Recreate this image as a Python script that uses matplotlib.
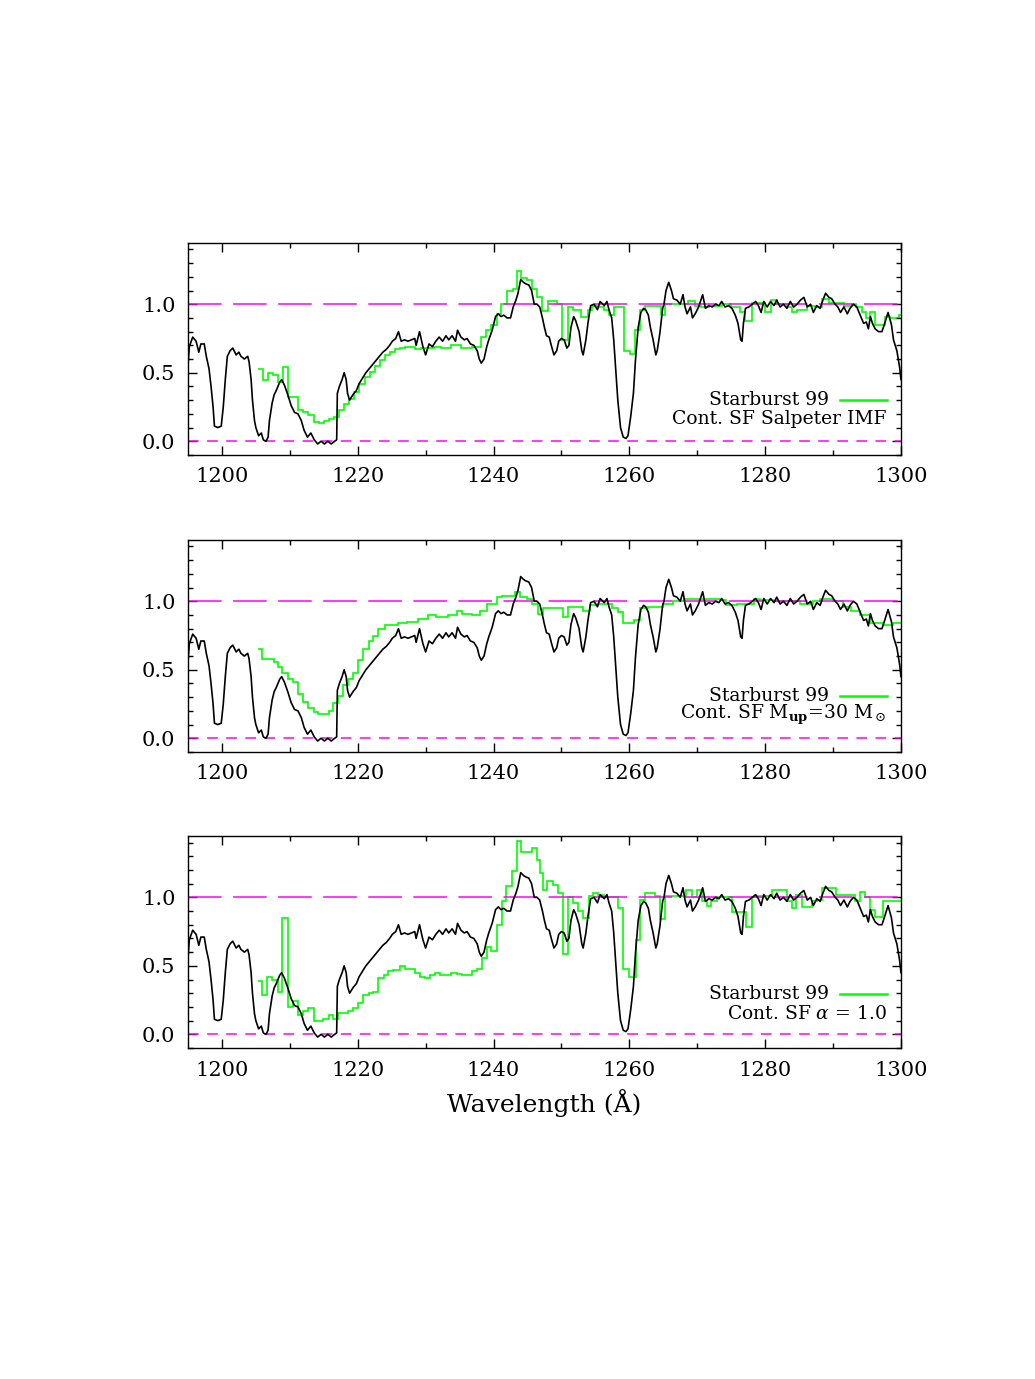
import matplotlib

matplotlib.use("Agg")
import matplotlib.pyplot as plt
from matplotlib.ticker import MultipleLocator

plt.rcParams["font.family"] = ["DejaVu Serif"]
plt.rcParams["mathtext.fontset"] = "dejavuserif"

# observed spectrum (same in every panel)
obs_wave = [
    1195.0, 1195.2, 1195.7, 1196.2, 1196.6, 1196.9, 1197.4, 1197.7, 1198.1, 1198.4,
    1198.7, 1198.9, 1199.4, 1199.9, 1200.2, 1200.5, 1200.8, 1201.2, 1201.6, 1202.1,
    1202.5, 1202.8, 1203.3, 1203.8, 1204.0, 1204.3, 1204.5, 1204.8, 1205.0, 1205.4,
    1205.8, 1206.1, 1206.5, 1206.8, 1207.0, 1207.4, 1207.7, 1208.0, 1208.5, 1208.8,
    1209.2, 1209.7, 1210.2, 1210.7, 1211.2, 1211.7, 1212.1, 1212.6, 1213.1, 1213.6,
    1214.1, 1214.6, 1215.1, 1215.6, 1216.1, 1216.6, 1216.9, 1217.0, 1217.3, 1217.7,
    1218.0, 1218.3, 1218.5, 1218.8, 1219.3, 1219.8, 1220.2, 1220.7, 1221.2, 1221.7,
    1222.2, 1222.7, 1223.2, 1223.7, 1224.2, 1224.7, 1225.1, 1225.6, 1226.0, 1226.4,
    1226.9, 1227.4, 1227.9, 1228.4, 1228.6, 1229.1, 1229.6, 1230.0, 1230.5, 1231.0,
    1231.5, 1232.0, 1232.5, 1233.0, 1233.4, 1233.9, 1234.4, 1234.7, 1235.2, 1235.7,
    1236.1, 1236.6, 1237.1, 1237.6, 1237.9, 1238.2, 1238.6, 1239.0, 1239.3, 1239.8,
    1240.3, 1240.7, 1241.1, 1241.5, 1242.0, 1242.5, 1242.9, 1243.3, 1243.6, 1244.0,
    1244.4, 1244.7, 1245.2, 1245.6, 1246.0, 1246.4, 1246.8, 1247.2, 1247.5, 1247.8,
    1248.2, 1248.5, 1248.9, 1249.3, 1249.6, 1250.0, 1250.4, 1250.8, 1251.1, 1251.4,
    1251.8, 1252.1, 1252.6, 1253.0, 1253.2, 1253.6, 1253.9, 1254.3, 1254.8, 1255.3,
    1255.7, 1256.3, 1256.7, 1257.0, 1257.4, 1257.7, 1258.0, 1258.3, 1258.7, 1259.1,
    1259.5, 1259.8, 1260.2, 1260.6, 1260.9, 1261.3, 1261.7, 1262.1, 1262.4, 1262.8,
    1263.1, 1263.5, 1263.9, 1264.1, 1264.5, 1264.9, 1265.1, 1265.4, 1265.8, 1266.2,
    1266.5, 1267.0, 1267.5, 1267.9, 1268.2, 1268.5, 1269.0, 1269.3, 1269.7, 1270.2,
    1270.8, 1271.2, 1271.7, 1272.2, 1272.7, 1273.2, 1273.6, 1274.1, 1274.6, 1275.1,
    1275.6, 1276.0, 1276.4, 1276.6, 1276.8, 1277.1, 1277.6, 1278.1, 1278.6, 1279.0,
    1279.4, 1279.8, 1280.3, 1280.8, 1281.3, 1281.7, 1282.2, 1282.7, 1283.2, 1283.7,
    1284.2, 1284.7, 1285.2, 1285.7, 1286.2, 1286.7, 1287.1, 1287.6, 1288.1, 1288.5,
    1288.9, 1289.4, 1289.8, 1290.3, 1290.7, 1291.1, 1291.6, 1292.1, 1292.5, 1293.0,
    1293.5, 1294.0, 1294.5, 1294.9, 1295.2, 1295.5, 1295.8, 1296.2, 1296.7, 1297.2,
    1297.6, 1298.1, 1298.6, 1298.9, 1299.4, 1299.8, 1300.0,
]
obs_flux = [
    0.55, 0.69, 0.76, 0.73, 0.65, 0.71, 0.71, 0.62, 0.53, 0.40,
    0.25, 0.11, 0.10, 0.11, 0.25, 0.45, 0.62, 0.66, 0.68, 0.63,
    0.65, 0.62, 0.60, 0.62, 0.58, 0.45, 0.30, 0.15, 0.10, 0.04,
    0.06, 0.01, 0.00, 0.03, 0.15, 0.28, 0.34, 0.37, 0.43, 0.45,
    0.41, 0.34, 0.26, 0.21, 0.20, 0.15, 0.08, 0.03, 0.06, 0.01,
    -0.02, 0.00, -0.02, 0.00, -0.02, 0.00, 0.01, 0.35, 0.40, 0.45,
    0.50, 0.45, 0.35, 0.30, 0.34, 0.37, 0.42, 0.46, 0.50, 0.53,
    0.56, 0.59, 0.62, 0.65, 0.67, 0.70, 0.73, 0.75, 0.80, 0.73,
    0.74, 0.73, 0.74, 0.75, 0.70, 0.80, 0.69, 0.63, 0.71, 0.69,
    0.73, 0.76, 0.73, 0.77, 0.74, 0.77, 0.73, 0.81, 0.76, 0.74,
    0.75, 0.71, 0.70, 0.66, 0.60, 0.57, 0.60, 0.69, 0.74, 0.81,
    0.91, 0.93, 0.91, 0.92, 0.90, 0.90, 0.98, 1.03, 1.08, 1.18,
    1.16, 1.15, 1.14, 1.10, 1.00, 1.00, 0.98, 0.90, 0.83, 0.77,
    0.76, 0.70, 0.63, 0.66, 0.73, 0.75, 0.74, 0.68, 0.70, 0.83,
    0.91, 0.88, 0.80, 0.66, 0.63, 0.74, 0.86, 0.99, 1.00, 0.96,
    1.02, 0.99, 1.02, 0.96, 0.90, 0.74, 0.52, 0.30, 0.10, 0.03,
    0.02, 0.04, 0.18, 0.35, 0.59, 0.83, 0.94, 0.97, 0.96, 0.92,
    0.83, 0.74, 0.63, 0.66, 0.79, 0.97, 1.00, 1.10, 1.16, 1.10,
    1.04, 1.03, 1.00, 1.07, 0.98, 0.93, 0.98, 0.90, 0.93, 0.98,
    1.07, 0.97, 0.99, 0.98, 1.00, 0.99, 1.02, 0.98, 0.99, 0.97,
    0.92, 0.86, 0.74, 0.73, 0.86, 0.97, 0.98, 1.00, 1.02, 0.99,
    0.94, 1.02, 0.98, 1.02, 0.99, 1.03, 0.98, 1.00, 0.97, 1.02,
    0.98, 1.00, 1.03, 1.05, 0.98, 1.00, 0.94, 0.99, 0.97, 1.03,
    1.08, 1.05, 1.04, 1.00, 0.98, 0.94, 0.98, 0.93, 0.97, 1.00,
    0.98, 0.92, 0.86, 0.87, 0.82, 0.91, 0.86, 0.82, 0.80, 0.80,
    0.86, 0.94, 0.85, 0.74, 0.66, 0.54, 0.45,
]

# Starburst 99 models: bin edges and bin values
salp_edges = [
    1205.25, 1206.0, 1206.75, 1207.5, 1208.25, 1209.0, 1209.75, 1211.25, 1212.0, 1212.75,
    1213.5, 1214.25, 1215.0, 1215.75, 1216.5, 1217.25, 1218.0, 1218.75, 1219.5, 1220.25,
    1221.0, 1221.75, 1222.5, 1223.25, 1224.0, 1224.75, 1225.5, 1226.25, 1227.0, 1228.5,
    1229.25, 1231.2, 1232.2, 1233.7, 1235.2, 1236.9, 1238.1, 1238.85, 1239.6, 1240.5,
    1241.15, 1242.0, 1242.8, 1243.4, 1244.1, 1245.0, 1245.7, 1246.45, 1247.2, 1248.0,
    1249.4, 1250.1, 1250.9, 1251.75, 1252.9, 1253.9, 1254.55, 1255.3, 1256.3, 1257.0,
    1257.75, 1259.2, 1260.1, 1260.8, 1261.6, 1262.3, 1264.6, 1265.2, 1268.7, 1269.7,
    1270.5, 1271.7, 1273.6, 1274.9, 1276.35, 1277.1, 1278.0, 1280.0, 1280.8, 1281.75,
    1283.2, 1284.0, 1284.7, 1286.2, 1287.4, 1288.4, 1289.4, 1291.6, 1292.8, 1293.4,
    1294.3, 1294.85, 1295.5, 1296.2, 1297.6, 1298.4, 1299.7, 1300.0,
]
salp_flux = [
    0.53, 0.445, 0.50, 0.48, 0.43, 0.54, 0.32, 0.23, 0.21, 0.19,
    0.14, 0.13, 0.145, 0.16, 0.18, 0.225, 0.275, 0.31, 0.36, 0.42,
    0.47, 0.505, 0.55, 0.59, 0.63, 0.65, 0.67, 0.68, 0.69, 0.67,
    0.68, 0.69, 0.68, 0.70, 0.68, 0.69, 0.76, 0.81, 0.85, 0.93,
    1.00, 1.10, 1.11, 1.24, 1.19, 1.18, 1.11, 1.05, 0.95, 1.02,
    1.00, 0.74, 0.98, 0.96, 0.91, 0.96, 0.99, 0.98, 0.96, 0.92,
    0.98, 0.66, 0.64, 0.81, 0.96, 0.99, 0.92, 1.00, 1.02, 0.99,
    0.98, 0.99, 1.00, 0.98, 0.94, 0.88, 1.01, 0.94, 1.03, 1.00,
    0.98, 0.94, 0.96, 0.99, 0.98, 1.04, 1.01, 0.99, 1.00, 0.98,
    0.94, 0.90, 0.94, 0.85, 0.91, 0.90, 0.92,
]

mup_edges = [
    1205.25, 1205.95, 1207.6, 1208.2, 1208.9, 1209.7, 1210.4, 1211.25, 1212.0, 1212.7,
    1213.5, 1214.2, 1215.7, 1216.4, 1217.1, 1217.9, 1218.6, 1219.35, 1220.1, 1220.8,
    1221.6, 1222.3, 1223.0, 1224.0, 1226.0, 1227.2, 1228.9, 1230.4, 1231.6, 1233.3,
    1234.6, 1235.3, 1236.8, 1238.0, 1239.0, 1240.5, 1241.2, 1243.2, 1243.9, 1244.9,
    1245.6, 1246.6, 1247.3, 1250.2, 1251.0, 1253.2, 1254.2, 1255.4, 1257.4, 1258.4,
    1259.1, 1260.7, 1261.6, 1262.8, 1265.0, 1266.5, 1268.0, 1273.35, 1274.3, 1275.8,
    1278.3, 1279.2, 1281.2, 1285.1, 1287.1, 1288.1, 1290.0, 1291.5, 1292.7, 1294.0,
    1295.4, 1297.4, 1298.9, 1300.0,
]
mup_flux = [
    0.65, 0.58, 0.56, 0.52, 0.48, 0.43, 0.41, 0.32, 0.265, 0.22,
    0.19, 0.18, 0.20, 0.26, 0.31, 0.39, 0.435, 0.48, 0.57, 0.65,
    0.71, 0.75, 0.80, 0.825, 0.84, 0.85, 0.87, 0.90, 0.885, 0.90,
    0.93, 0.91, 0.90, 0.93, 0.98, 1.03, 1.04, 1.07, 1.03, 1.02,
    0.98, 0.91, 0.95, 0.885, 0.96, 0.93, 0.97, 0.98, 0.95, 0.92,
    0.84, 0.86, 0.95, 0.96, 0.98, 1.00, 1.02, 1.01, 0.97, 0.98,
    1.02, 1.01, 1.00, 0.98, 1.00, 1.02, 1.00, 0.96, 0.93, 0.90,
    0.84, 0.83, 0.84,
]

alpha_edges = [
    1205.25, 1205.95, 1206.7, 1207.4, 1208.2, 1208.9, 1209.7, 1210.4, 1211.15, 1212.0,
    1212.7, 1213.5, 1214.9, 1215.7, 1216.4, 1217.1, 1218.6, 1219.35, 1220.1, 1220.8,
    1221.6, 1222.3, 1223.0, 1223.8, 1224.5, 1225.2, 1226.2, 1227.0, 1228.4, 1229.2,
    1229.9, 1230.6, 1231.4, 1232.1, 1233.8, 1234.6, 1235.3, 1236.8, 1237.5, 1238.3,
    1239.0, 1239.7, 1240.5, 1241.2, 1241.9, 1242.7, 1243.4, 1244.1, 1245.6, 1246.4,
    1246.84, 1247.3, 1247.9, 1248.7, 1249.5, 1250.2, 1251.0, 1251.75, 1252.5, 1253.2,
    1254.1, 1254.7, 1255.4, 1256.2, 1258.4, 1259.1, 1260.0, 1261.0, 1261.6, 1262.3,
    1263.8, 1264.5, 1265.25, 1268.4, 1269.2, 1269.9, 1270.65, 1271.4, 1272.0, 1272.9,
    1275.1, 1276.3, 1277.2, 1278.0, 1278.75, 1281.0, 1283.2, 1283.9, 1284.6, 1285.4,
    1286.85, 1287.6, 1288.3, 1290.5, 1293.2, 1294.0, 1294.7, 1295.4, 1296.2, 1297.4,
    1300.0,
]
alpha_flux = [
    0.39, 0.29, 0.42, 0.40, 0.31, 0.85, 0.20, 0.24, 0.14, 0.17,
    0.19, 0.095, 0.11, 0.14, 0.11, 0.155, 0.17, 0.19, 0.23, 0.29,
    0.30, 0.31, 0.41, 0.43, 0.46, 0.47, 0.50, 0.48, 0.45, 0.42,
    0.41, 0.43, 0.45, 0.43, 0.45, 0.44, 0.43, 0.46, 0.48, 0.56,
    0.64, 0.61, 0.80, 0.97, 1.08, 1.19, 1.41, 1.33, 1.36, 1.27,
    1.18, 1.05, 1.12, 1.09, 1.03, 0.59, 1.00, 0.96, 0.90, 0.85,
    1.01, 1.03, 1.02, 1.00, 0.92, 0.48, 0.42, 0.69, 0.98, 1.03,
    1.01, 0.84, 1.01, 1.05, 1.00, 1.05, 0.97, 0.94, 0.97, 1.00,
    0.89, 0.89, 0.78, 1.00, 1.01, 1.05, 0.97, 0.92, 1.02, 0.93,
    0.97, 0.98, 1.07, 1.02, 0.97, 1.04, 1.00, 0.91, 0.86, 0.97,
]

model_labels = [
    "Cont. SF Salpeter IMF",
    r"Cont. SF M$_{\mathbf{up}}$=30 M$_\odot$",
    r"Cont. SF $\alpha$ = 1.0",
]
models = [(salp_edges, salp_flux), (mup_edges, mup_flux), (alpha_edges, alpha_flux)]

fig = plt.figure(figsize=(10.35, 13.79), dpi=100)
panel_bottoms = [0.6701, 0.4547, 0.2400]
legend_y = [(0.258, 0.169), (0.264, 0.175), (0.255, 0.160)]

for i, ((edges, flux), label) in enumerate(zip(models, model_labels)):
    ax = fig.add_axes([0.1816, panel_bottoms[i], 0.6889, 0.1540])
    ax.axhline(1.0, color="#ff00ff", linewidth=1.1, dashes=(22, 7.5))
    ax.axhline(0.0, color="#ff00ff", linewidth=1.1, dashes=(7, 5.5))
    ax.plot(obs_wave, obs_flux, color="black", linewidth=1.2)
    ax.stairs(flux, edges, baseline=None, color="#00ff00", linewidth=1.2)

    ax.set_xlim(1195, 1300)
    ax.set_ylim(-0.1, 1.45)
    ax.xaxis.set_major_locator(MultipleLocator(20))
    ax.xaxis.set_minor_locator(MultipleLocator(10))
    ax.yaxis.set_major_locator(MultipleLocator(0.5))
    ax.yaxis.set_minor_locator(MultipleLocator(0.1))
    ax.yaxis.set_major_formatter(lambda v, pos: f"{v:.1f}")
    ax.tick_params(which="both", direction="in", top=True, right=True,
                   width=1.0, labelsize=15)
    ax.tick_params(which="major", length=6.5, pad=9)
    ax.tick_params(which="minor", length=3.5)
    for spine in ax.spines.values():
        spine.set_linewidth(1.0)

    y1, y2 = legend_y[i]
    ax.text(0.899, y1, "Starburst 99", transform=ax.transAxes, ha="right",
            va="center", fontsize=13.5)
    ax.plot([0.914, 0.980], [y1, y1], transform=ax.transAxes, color="#00ff00",
            linewidth=1.8)
    ax.text(0.980, y2, label, transform=ax.transAxes, ha="right",
            va="center", fontsize=13.5)

    if i == 2:
        ax.set_xlabel("Wavelength (Å)", fontsize=18, labelpad=7)

fig.savefig("out.png", dpi=100)
